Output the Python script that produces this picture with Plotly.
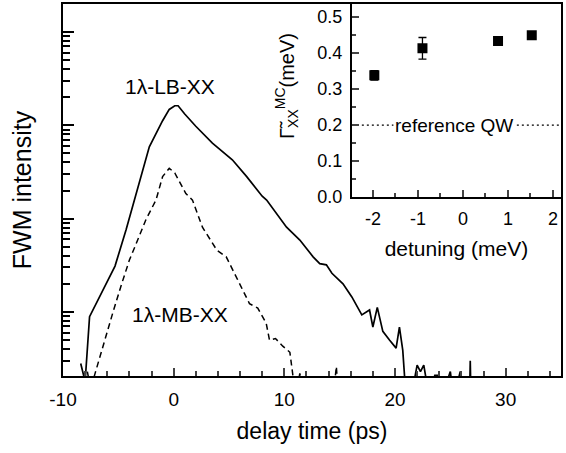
import plotly.graph_objects as go

# main panel: FWM transients (intensity, arb. units, log scale)
lb_t = [-8.4, -8.0, -7.6, -6.7, -5.3, -4.3, -3.5, -2.2, -1.0, -0.4, 0.1, 0.4, 1.0, 2.0,
        3.5, 5.3, 6.6, 8.0, 8.4, 10.2, 11.4, 12.6, 13.2, 13.8, 14.3, 15.3, 16.1, 17.0,
        17.7, 18.0, 18.4, 18.9, 19.5, 20.1, 20.4, 20.7, 21.0, 21.6, 22.0, 22.3, 22.6,
        23.1, 23.6, 23.9, 24.2, 25.0, 25.3, 25.9, 26.2, 26.75, 26.8, 26.85, 27.2]
lb_i = [2.8, 1.8, 8.9, 14.5, 31, 76, 166, 589, 1120, 1480, 1620, 1620, 1320, 977,
        646, 427, 282, 174, 158, 81, 59, 39, 33, 32, 26, 20, 14.5, 9.3,
        10.5, 6.9, 11.2, 6.2, 5.0, 4.1, 6.9, 3.9, 1.2, 1.5, 2.7, 2.3, 2.7,
        1.2, 2.1, 2.1, 1.2, 2.3, 1.2, 2.3, 1.2, 1.5, 3.0, 1.5, 1.2]

mb_t = [-7.8, -7.5, -7.1, -6.4, -5.5, -4.7, -4.0, -3.5, -2.5, -1.6, -1.0, -0.4, 0.1,
        1.1, 1.7, 2.6, 3.9, 4.75, 5.95, 6.85, 7.6, 8.36, 8.66, 9.2, 9.86, 10.5, 10.75,
        11.0, 11.4, 11.8, 14.4, 14.7, 14.9]
mb_i = [2.3, 1.5, 2.2, 4.3, 9.8, 20, 36, 50, 98, 158, 282, 347, 309,
        186, 158, 81, 46, 39, 20, 12.3, 11, 7.6, 5.0, 5.2, 4.3, 3.7, 2.2,
        1.2, 2.2, 1.2, 1.2, 2.6, 1.2]

x_ticks = [-10, 0, 10, 20, 30]
x_labels = ["-10", "0", "10", "20", "30"]

# inset: broadening vs detuning
det = [-1.97, -0.90, 0.78, 1.53]
gam = [0.338, 0.413, 0.433, 0.449]
gam_err = [0.013, 0.030, 0.008, 0.006]
ref_qw = 0.2
det_ticks = [-2, -1, 0, 1, 2]
det_labels = ["-2", "-1", "0", "1", "2"]

F = "Liberation Sans, Arial, sans-serif"

fig = go.Figure()
fig.add_trace(go.Scatter(x=lb_t, y=lb_i, mode="lines", line=dict(color="black", width=1.7),
                         showlegend=False))
fig.add_trace(go.Scatter(x=mb_t, y=mb_i, mode="lines",
                         line=dict(color="black", width=1.5, dash="6px,4px"), showlegend=False))
# carrier for the long decade ticks
fig.add_trace(go.Scatter(x=[None], y=[None], yaxis="y3", showlegend=False, hoverinfo="skip"))

fig.add_trace(go.Scatter(x=[-2.47, 2.18], y=[ref_qw, ref_qw], mode="lines", xaxis="x2", yaxis="y2",
                         line=dict(color="black", width=1.3, dash="2px,3px"), showlegend=False))
fig.add_trace(go.Scatter(x=det, y=gam, mode="markers", xaxis="x2", yaxis="y2",
                         marker=dict(symbol="square", size=10, color="black"),
                         error_y=dict(type="data", array=gam_err, color="black", thickness=1.3, width=4),
                         showlegend=False))

decades = [10, 100, 1000, 10000]
yrange = [0.314, 4.30]

fig.update_layout(
    width=566, height=453,
    margin=dict(l=63, r=5, t=4, b=77),
    paper_bgcolor="white", plot_bgcolor="white",
    font=dict(family=F, color="black"),
    xaxis=dict(domain=[0, 1], range=[-10, 35], tickvals=x_ticks, ticktext=x_labels,
               ticks="inside", ticklen=8, tickwidth=1.5, showline=True, linewidth=2,
               linecolor="black", mirror=True, showgrid=False, zeroline=False,
               tickfont=dict(size=19), ticklabelstandoff=5, automargin=False,
               minor=dict(dtick=2, tick0=0, ticks="inside", ticklen=5, tickwidth=1.5, showgrid=False),
               title=dict(text="delay time (ps)", font=dict(size=23), standoff=14)),
    yaxis=dict(domain=[0, 1], type="log", range=yrange, tickmode="linear", dtick="D1",
               showticklabels=False, ticks="inside", ticklen=7, tickwidth=1.5, tickcolor="black",
               showline=True, linewidth=2, linecolor="black", mirror=True,
               showgrid=False, zeroline=False, automargin=False,
               title=dict(text="FWM intensity", font=dict(size=25), standoff=22)),
    yaxis3=dict(overlaying="y", anchor="x", side="left", type="log", range=yrange,
                tickvals=decades, showticklabels=False, ticks="inside", ticklen=11, tickwidth=1.6,
                tickcolor="black", showline=False, showgrid=False, zeroline=False, automargin=False),
    xaxis2=dict(domain=[0.580, 1], anchor="y2", range=[-2.47, 2.18], tickvals=det_ticks,
                ticktext=det_labels, ticks="inside", ticklen=7, tickwidth=1.5, showline=True,
                linewidth=2, linecolor="black", mirror=True, showgrid=False, zeroline=False,
                tickfont=dict(size=18), ticklabelstandoff=4, automargin=False,
                minor=dict(dtick=0.5, tick0=0, ticks="inside", ticklen=4, tickwidth=1.5, showgrid=False),
                title=dict(text="detuning (meV)", font=dict(size=21), standoff=14)),
    yaxis2=dict(domain=[0.481, 1], anchor="x2", range=[0, 0.536], tickvals=[0, 0.1, 0.2, 0.3, 0.4, 0.5],
                tickformat=".1f", ticks="inside", ticklen=7, tickwidth=1.5, showline=True,
                linewidth=2, linecolor="black", mirror=True, showgrid=False, zeroline=False,
                tickfont=dict(size=18), ticklabelstandoff=4, automargin=False,
                minor=dict(dtick=0.05, tick0=0, ticks="inside", ticklen=4, tickwidth=1.5, showgrid=False)),
    annotations=[
        dict(text="1λ-LB-XX", xref="paper", yref="paper", x=0.215, y=0.777,
             xanchor="center", yanchor="middle", showarrow=False, font=dict(size=21)),
        dict(text="1λ-MB-XX", xref="paper", yref="paper", x=0.235, y=0.164,
             xanchor="center", yanchor="middle", showarrow=False, font=dict(size=21)),
        dict(text="reference QW", xref="x2", yref="y2", x=-0.21, y=ref_qw,
             xanchor="center", yanchor="middle", showarrow=False, bgcolor="white",
             borderpad=1, font=dict(size=19)),
        dict(text="Γ̃<sub>XX</sub><sup>MC</sup>(meV)", xref="paper", yref="paper",
             x=0.45, y=0.78, xanchor="center", yanchor="middle", textangle=-90,
             showarrow=False, font=dict(size=20)),
    ],
)

fig.write_html("out.html", config={"displayModeBar": False},
               post_script="document.body.style.margin='0';")
